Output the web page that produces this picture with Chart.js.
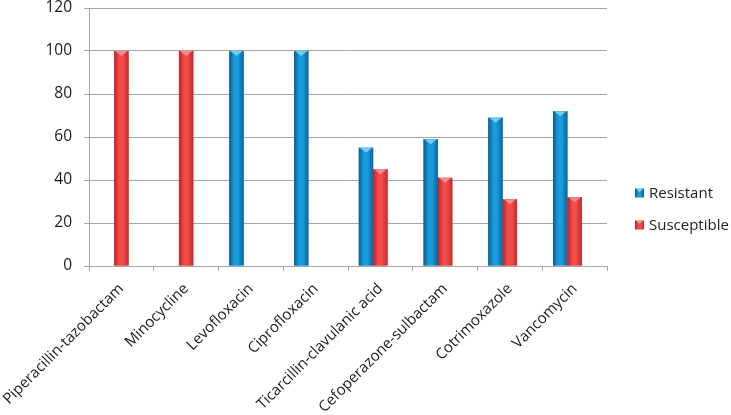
<!DOCTYPE html>
<html>
<head>
<meta charset="utf-8">
<script src="https://cdn.jsdelivr.net/npm/chart.js@4/dist/chart.umd.min.js"></script>
<style>
html,body{margin:0;padding:0;background:#fff;}
#wrap{width:731px;height:415px;position:relative;}
</style>
</head>
<body>
<div id="wrap"><canvas id="c" width="731" height="415"></canvas></div>
<script>
const categories = ["Piperacillin-tazobactam","Minocycline","Levofloxacin","Ciprofloxacin","Ticarcillin-clavulanic acid","Cefoperazone-sulbactam","Cotrimoxazole","Vancomycin"];
const resistant = [0, 0, 100, 100, 55, 59, 69, 72];
const susceptible = [100, 100, 0, 0, 45, 41, 31, 32];
const emptySeries = [null, null, null, null, null, null, null, null];
const seriesNames = ["Resistant", "Susceptible"];
const yTicks = {min: 0, max: 120, step: 20};

const palettes = [
  {edgeL:'#0a5c92', mid:'#1a9bdb', edgeR:'#0a64a0', hi:'#7fd6f7', base:'#1589c8'},
  {edgeL:'#b82626', mid:'#f44a4a', edgeR:'#c22c2c', hi:'#ff9a9a', base:'#e03a3a'}
];

function fillGrad(ctx, x, y, w, h, p){
  const g = ctx.createLinearGradient(x, 0, x + w, 0);
  g.addColorStop(0, p.edgeL);
  g.addColorStop(0.35, p.mid);
  g.addColorStop(0.6, p.mid);
  g.addColorStop(1, p.edgeR);
  ctx.fillStyle = g;
  ctx.fillRect(x, y, w, h);
}

const barStyle = {
  id: 'barStyle',
  afterDatasetsDraw(chart){
    const ctx = chart.ctx;
    ctx.save();
    ctx.beginPath();
    ctx.rect(chart.chartArea.left, chart.chartArea.top - 2, chart.chartArea.right - chart.chartArea.left, chart.chartArea.bottom - chart.chartArea.top + 2);
    ctx.clip();
    [0,1].forEach(di => {
      const meta = chart.getDatasetMeta(di);
      const p = palettes[di];
      meta.data.forEach(el => {
        const {x, y, base, width} = el.getProps(['x','y','base','width'], true);
        const h = base - y;
        if (!(h > 0.5)) return;
        const left = x - width/2;
        fillGrad(ctx, left, y, width, h, p);
        ctx.fillStyle = p.hi;
        ctx.globalAlpha = 0.85;
        ctx.beginPath();
        ctx.moveTo(left + 1, y);
        ctx.lineTo(left + width - 1, y);
        ctx.lineTo(x, y + Math.min(5, h));
        ctx.closePath();
        ctx.fill();
        ctx.globalAlpha = 1;
      });
    });
    ctx.restore();
  },
  afterDraw(chart){
    const ctx = chart.ctx;
    ctx.save();
    const rows = [193, 225];
    seriesNames.forEach((name, i) => {
      const p = palettes[i];
      fillGrad(ctx, 635, rows[i] - 4.5, 9, 9, p);
      ctx.fillStyle = p.hi;
      ctx.beginPath();
      ctx.moveTo(636, rows[i] - 4.5);
      ctx.lineTo(643, rows[i] - 4.5);
      ctx.lineTo(639.5, rows[i] - 1);
      ctx.closePath();
      ctx.fill();
      ctx.fillStyle = '#1e1e1e';
      ctx.font = '15px "Open Sans"';
      ctx.textBaseline = 'middle';
      ctx.textAlign = 'left';
      ctx.fillText(name, 649, rows[i] + 0.5);
    });
    ctx.restore();
  }
};

new Chart(document.getElementById('c'), {
  type: 'bar',
  data: {
    labels: categories,
    datasets: [
      {label: seriesNames[0], data: resistant, backgroundColor: palettes[0].base, borderWidth: 0},
      {label: seriesNames[1], data: susceptible, backgroundColor: palettes[1].base, borderWidth: 0},
      {label: '', data: emptySeries, backgroundColor: 'rgba(0,0,0,0)', borderWidth: 0}
    ]
  },
  options: {
    responsive: false,
    animation: false,
    devicePixelRatio: 1,
    categoryPercentage: 0.667,
    barPercentage: 1,
    layout: {padding: {top: 8, right: 124, bottom: 0, left: 0}},
    plugins: {legend: {display: false}, tooltip: {enabled: false}},
    scales: {
      x: {
        grid: {display: true, drawOnChartArea: false, drawTicks: true, tickLength: 5, color: '#a6a6a6', offset: true},
        border: {display: true, color: '#a6a6a6', width: 1},
        ticks: {maxRotation: 45, minRotation: 45, padding: 9, color: '#1a1a1a', font: {family: '"Open Sans"', size: 15}, autoSkip: false},
        afterFit(s){ s.height = 149; s.paddingLeft = 0; s.paddingRight = 0; }
      },
      y: {
        min: yTicks.min, max: yTicks.max,
        ticks: {stepSize: yTicks.step, padding: 12, color: '#1a1a1a', font: {family: '"Open Sans"', size: 15.5}},
        grid: {color: '#a6a6a6', tickLength: 5, lineWidth: 1},
        border: {display: true, color: '#a6a6a6', width: 1},
        afterFit(s){ s.width = 89; s.paddingTop = 0; s.paddingBottom = 0; }
      }
    }
  },
  plugins: [barStyle]
});
</script>
</body>
</html>
